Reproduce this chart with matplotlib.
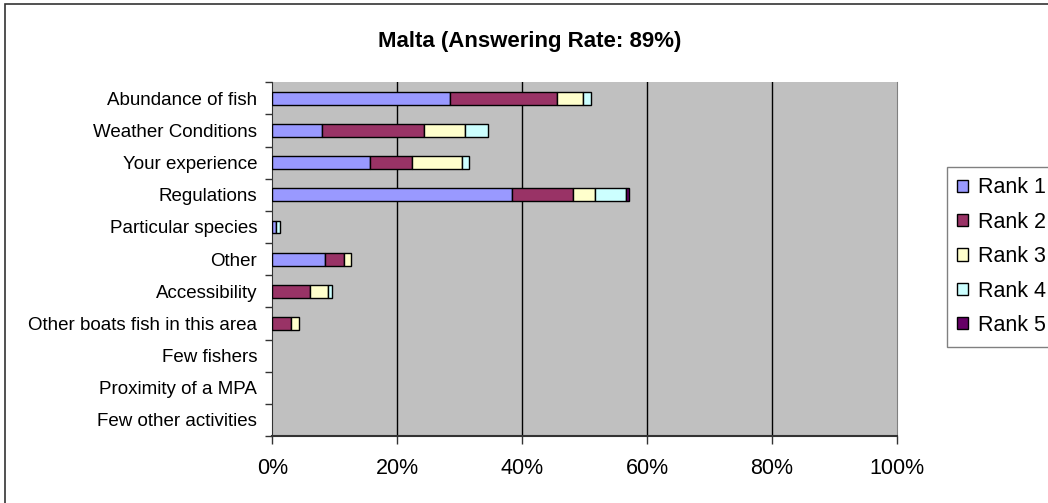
import matplotlib
matplotlib.use("Agg")
import matplotlib.pyplot as plt
from matplotlib.patches import Rectangle
import numpy as np

plt.rcParams['font.family'] = ['Liberation Sans', 'DejaVu Sans']

# answer shares (%) per category, top to bottom
categories = [
    "Abundance of fish",
    "Weather Conditions",
    "Your experience",
    "Regulations",
    "Particular species",
    "Other",
    "Accessibility",
    "Other boats fish in this area",
    "Few fishers",
    "Proximity of a MPA",
    "Few other activities",
]
rank1 = [28.4, 7.9, 15.7, 38.4, 0.6, 8.5, 0.0, 0.0, 0, 0, 0]
rank2 = [17.2, 16.4, 6.6, 9.7, 0.0, 3.0, 6.0, 3.0, 0, 0, 0]
rank3 = [4.1, 6.6, 8.1, 3.6, 0.0, 1.1, 3.0, 1.2, 0, 0, 0]
rank4 = [1.4, 3.7, 1.1, 5.0, 0.6, 0.0, 0.6, 0.0, 0, 0, 0]
rank5 = [0.0, 0.0, 0.0, 0.5, 0.0, 0.0, 0.0, 0.0, 0, 0, 0]
series_names = ["Rank 1", "Rank 2", "Rank 3", "Rank 4", "Rank 5"]
colors = ["#9999FF", "#993366", "#FFFFCC", "#CCFFFF", "#660066"]
xticks = [0, 20, 40, 60, 80, 100]

W, H = 1048, 503
fig = plt.figure(figsize=(W / 100, H / 100), dpi=100)
ax = fig.add_axes([272.3 / W, 67 / H, (896.7 - 272.3) / W, (436 - 82.3) / H])
ax.set_facecolor("#C0C0C0")

y = np.arange(len(categories))
left = np.zeros(len(categories))
for name, vals, c in zip(series_names, [rank1, rank2, rank3, rank4, rank5], colors):
    vals = np.array(vals, dtype=float)
    nz = vals > 0  # skip empty segments so no stray edges show
    ax.barh(y[nz], vals[nz], left=left[nz], height=0.4, color=c,
            edgecolor="black", linewidth=1.0, label=name, zorder=3)
    left += vals

ax.set_xlim(0, 100)
ax.set_ylim(len(categories) - 0.5, -0.5)
ax.set_xticks(xticks)
ax.set_xticklabels([f"{t}%" for t in xticks], fontsize=15.5)
ax.set_yticks(y)
ax.set_yticklabels(categories, fontsize=13.5)
ax.set_yticks(np.arange(len(categories) + 1) - 0.5, minor=True)
ax.tick_params(axis="y", which="major", length=0, pad=11)
ax.tick_params(axis="y", which="minor", length=5, width=1, color="#333333")
ax.tick_params(axis="x", length=6, width=1, pad=10, color="#333333")

for t in xticks[1:-1]:
    ax.axvline(t, color="black", linewidth=1, zorder=1)

ax.spines["top"].set_visible(False)
ax.spines["right"].set_color("#808080")
ax.spines["left"].set_color("#333333")
ax.spines["bottom"].set_color("#333333")
ax.spines["bottom"].set_linewidth(1.5)

fig.text(530 / W, 1 - 41 / H, "Malta (Answering Rate: 89%)", ha="center",
         va="center", fontsize=16, fontweight="bold")

leg = fig.legend(loc="upper left", bbox_to_anchor=(946.7 / W, 1 - 166.7 / H),
                 fontsize=15.5, frameon=True, fancybox=False, framealpha=1,
                 edgecolor="#808080", handlelength=0.5, handleheight=0.5,
                 handletextpad=0.45, labelspacing=0.62, borderpad=0.5,
                 borderaxespad=0)
leg.get_frame().set_linewidth(1)
for h in leg.legend_handles:
    h.set_edgecolor("black")

# outer chart border (cropped at right and bottom)
fig.patches.append(Rectangle((5 / W, -0.1), 1.2, (H - 4) / H + 0.1,
                             transform=fig.transFigure, fill=False,
                             edgecolor="#333333", linewidth=1.2))

fig.savefig("out.png", dpi=100)
